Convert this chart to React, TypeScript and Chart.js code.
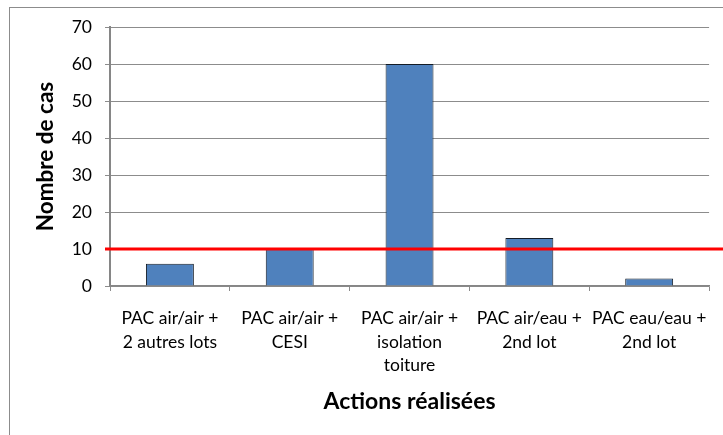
import React, { useEffect, useRef } from "react";
import { Chart, registerables } from "chart.js";

Chart.register(...registerables);

const categories: string[][] = [
  ["PAC air/air +", "2 autres lots"],
  ["PAC air/air +", "CESI"],
  ["PAC air/air +", "isolation", "toiture"],
  ["PAC air/eau +", "2nd lot"],
  ["PAC eau/eau +", "2nd lot"],
];
const caseCounts: number[] = [6, 10, 60, 13, 2];
const thresholdValue = 10;
const yMin = 0;
const yMax = 70;
const yStep = 10;
const yTitle = "Nombre de cas";
const xTitle = "Actions réalisées";

const FONT = "Lato, 'Open Sans', sans-serif";
const W = 723;
const H = 435;

const framePlugin = {
  id: "frameAndThreshold",
  beforeDraw(chart: any) {
    const ctx = chart.ctx;
    ctx.save();
    ctx.fillStyle = "#ffffff";
    ctx.fillRect(0, 0, chart.width, chart.height);
    ctx.strokeStyle = "#8c8c8c";
    ctx.lineWidth = 1;
    ctx.strokeRect(9.5, 7.5, 1000, 1000);
    ctx.restore();
  },
  afterDatasetsDraw(chart: any) {
    const ctx = chart.ctx;
    const y = chart.scales.y.getPixelForValue(thresholdValue);
    ctx.save();
    ctx.strokeStyle = "#ff0000";
    ctx.lineWidth = 3;
    ctx.beginPath();
    ctx.moveTo(chart.chartArea.left - 5, y);
    ctx.lineTo(chart.width, y);
    ctx.stroke();
    ctx.restore();
  },
};

export default function App() {
  const ref = useRef<HTMLCanvasElement | null>(null);
  useEffect(() => {
    if (!ref.current) return;
    const chart = new Chart(ref.current, {
      type: "bar",
      data: {
        labels: categories,
        datasets: [
          {
            data: caseCounts,
            backgroundColor: "#4f81bd",
            borderColor: "#141c26",
            borderWidth: 1,
            barPercentage: 0.4,
            categoryPercentage: 1,
          },
        ],
      },
      options: {
        responsive: false,
        animation: false,
        devicePixelRatio: 1,
        layout: { padding: { left: 0, top: 27, right: 6, bottom: 0 } },
        plugins: {
          legend: { display: false },
          tooltip: { enabled: false },
        },
        scales: {
          x: {
            offset: true,
            afterFit: (s: any) => {
              s.height = 149;
            },
            grid: {
              display: true,
              offset: true,
              drawOnChartArea: false,
              drawTicks: true,
              tickLength: 5,
              color: "#8c8c8c",
            },
            border: { display: true, color: "#868686", width: 1.5 },
            ticks: {
              autoSkip: false,
              maxRotation: 0,
              minRotation: 0,
              padding: 16,
              color: "#000000",
              font: { family: FONT, size: 17.5, lineHeight: 1.33 },
            },
            title: {
              display: true,
              text: xTitle,
              color: "#000000",
              font: { family: FONT, size: 23, weight: "bold", lineHeight: 1.2 },
              padding: { top: 0, bottom: 20 },
            },
          },
          y: {
            min: yMin,
            max: yMax,
            afterFit: (s: any) => {
              s.width = 110;
            },
            grid: {
              color: "#8c8c8c",
              lineWidth: 1,
              drawTicks: true,
              tickLength: 5,
            },
            border: { display: true, color: "#868686", width: 2 },
            ticks: {
              stepSize: yStep,
              padding: 13,
              color: "#000000",
              font: { family: FONT, size: 17.5 },
            },
            title: {
              display: true,
              text: yTitle,
              color: "#000000",
              font: { family: FONT, size: 22.5, weight: "bold", lineHeight: 1.2 },
              padding: { top: 32, bottom: 0 },
            },
          },
        },
      },
      plugins: [framePlugin],
    });
    return () => chart.destroy();
  }, []);
  return (
    <div style={{ position: "fixed", left: 0, top: 0, width: W, height: H, background: "#fff" }}>
      <canvas ref={ref} width={W} height={H} style={{ display: "block", width: W, height: H }} />
    </div>
  );
}
